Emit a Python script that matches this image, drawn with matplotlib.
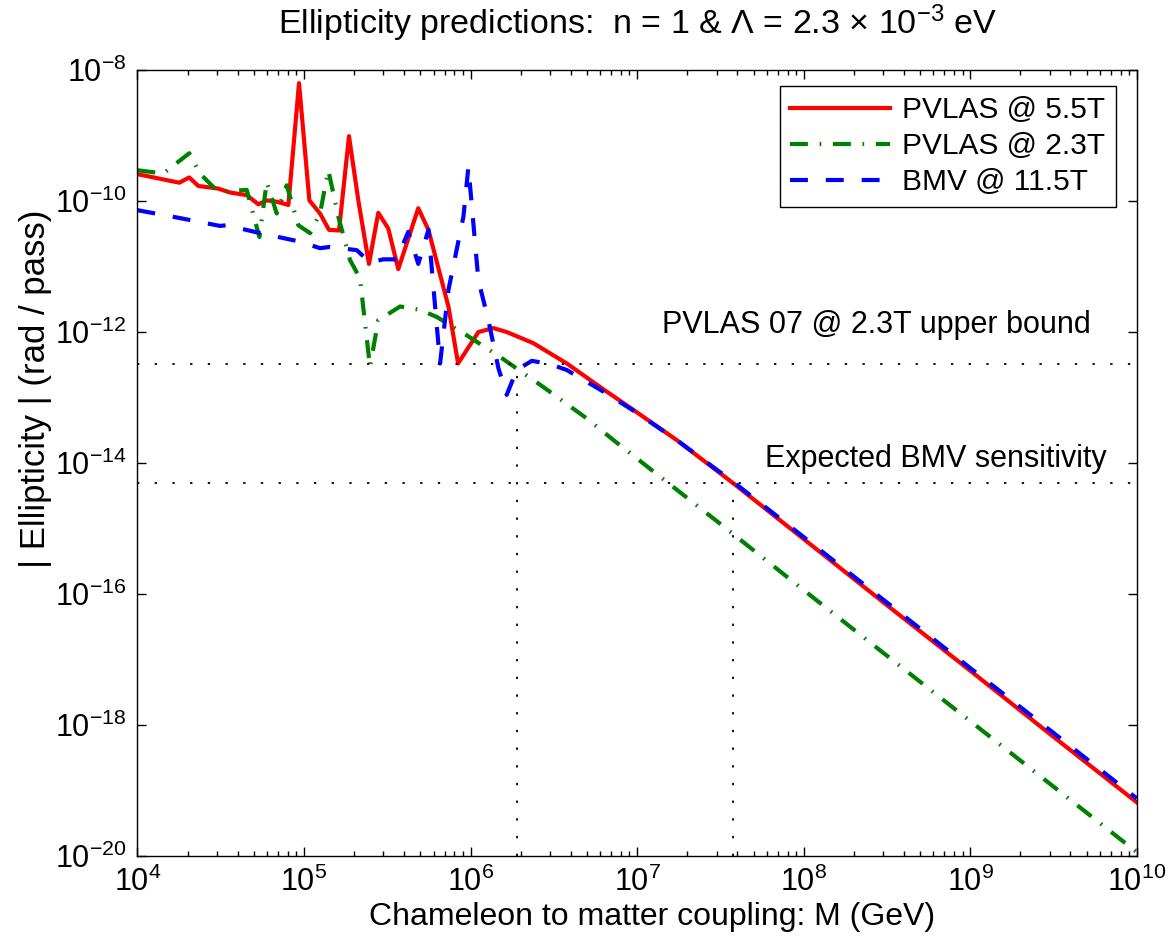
import numpy as np
import matplotlib
matplotlib.use('Agg')
import matplotlib.pyplot as plt
from matplotlib.ticker import NullLocator, FixedLocator

plt.rcParams['font.family'] = ['Liberation Sans', 'DejaVu Sans']
plt.rcParams['mathtext.default'] = 'regular'

# values, as log10(M / GeV) and log10(|ellipticity|)
red_logM = [4.0, 4.251, 4.311, 4.365, 4.485, 4.556, 4.656, 4.726, 4.776, 4.836,
            4.906, 4.970, 5.032, 5.096, 5.150, 5.210, 5.270, 5.326, 5.390, 5.446,
            5.506, 5.566, 5.686, 5.747, 5.867, 5.925, 6.047, 6.137, 6.217, 6.377,
            6.578, 6.778, 6.978, 7.238, 7.578, 8.0, 8.5, 9.0, 9.5, 10.0]
red_logE = [-9.59, -9.72, -9.64, -9.77, -9.81, -9.87, -9.91, -10.05, -9.99, -10.01,
            -10.06, -8.20, -9.99, -10.19, -10.44, -10.45, -9.01, -9.99, -10.96, -10.18,
            -10.42, -11.04, -10.11, -10.44, -11.61, -12.48, -12.00, -11.94, -12.00, -12.17,
            -12.48, -12.84, -13.19, -13.65, -14.31, -15.16, -16.17, -17.17, -18.18, -19.18]

green_logM = [4.0, 4.155, 4.311, 4.375, 4.485, 4.656, 4.732, 4.776, 4.836, 4.896,
              4.966, 5.036, 5.096, 5.146, 5.206, 5.276, 5.336, 5.396, 5.446, 5.577,
              5.697, 5.797, 5.977, 6.177, 6.437, 6.698, 6.858, 7.5, 8.0, 8.459,
              9.0, 9.5, 10.0]
green_logE = [-9.53, -9.58, -9.27, -9.58, -9.86, -9.83, -10.55, -9.71, -10.19, -9.76,
              -10.37, -10.49, -10.19, -9.53, -10.24, -10.90, -11.18, -12.53, -11.82, -11.61,
              -11.66, -11.77, -12.05, -12.38, -12.84, -13.32, -13.65, -14.93, -15.94, -16.86,
              -17.94, -18.94, -19.94]

blue_logM = [4.0, 4.255, 4.495, 4.536, 4.736, 4.976, 5.096, 5.156, 5.317, 5.396,
             5.476, 5.557, 5.626, 5.686, 5.747, 5.817, 5.867, 5.957, 5.987, 6.047,
             6.107, 6.167, 6.217, 6.277, 6.368, 6.477, 6.578, 6.778, 6.978, 7.238,
             7.578, 8.0, 8.5, 9.0, 9.5, 10.0]
blue_logE = [-10.14, -10.26, -10.38, -10.37, -10.49, -10.62, -10.72, -10.70, -10.75, -10.94,
             -10.89, -10.89, -10.47, -10.96, -10.44, -12.48, -11.36, -10.24, -9.48, -11.21,
             -11.82, -12.55, -12.96, -12.58, -12.44, -12.49, -12.58, -12.88, -13.20, -13.65,
             -14.29, -15.13, -16.13, -17.13, -18.12, -19.12]

labels = ['PVLAS @ 5.5T', 'PVLAS @ 2.3T', 'BMV @ 11.5T']

pvlas_bound = 3.2e-13
bmv_sens = 5.0e-15
M_bound = 1.89e6
M_sens = 3.78e7

fig = plt.figure(figsize=(11.69, 9.49), dpi=100)
ax = fig.add_axes([0.1176, 0.098, 0.8548, 0.8282])

ax.plot(10**np.array(red_logM), 10**np.array(red_logE), '-', color='#ff0000',
        lw=3, label=labels[0])
ax.plot(10**np.array(green_logM), 10**np.array(green_logE), color='#008000',
        lw=3, ls=(0, (4.3, 2.8, 0.4, 2.8)), label=labels[1])
ax.plot(10**np.array(blue_logM), 10**np.array(blue_logE), color='#0000ff',
        lw=3, ls=(0, (4.3, 4.3)), label=labels[2])

# reference lines
dot = (0, (1.3, 8.5))
ax.plot([1e4, 1e10], [pvlas_bound, pvlas_bound], color='k', lw=1.3, ls=dot)
ax.plot([1e4, 1e10], [bmv_sens, bmv_sens], color='k', lw=1.3, ls=dot)
ax.plot([M_bound, M_bound], [1e-20, pvlas_bound], color='k', lw=1.3, ls=dot)
ax.plot([M_sens, M_sens], [1e-20, bmv_sens], color='k', lw=1.3, ls=dot)

ax.text(1.41e7, 1.29e-12, 'PVLAS 07 @ 2.3T upper bound', fontsize=22, va='center')
ax.text(5.87e7, 1.17e-14, 'Expected BMV sensitivity', fontsize=22, va='center')

ax.set_xscale('log')
ax.set_yscale('log')
ax.set_xlim(1e4, 1e10)
ax.set_ylim(1e-20, 1e-8)

# only ticks inside the view
ax.yaxis.set_major_locator(FixedLocator([10.0**k for k in range(-20, -7, 2)]))
ax.yaxis.set_minor_locator(NullLocator())
ax.xaxis.set_major_locator(FixedLocator([10.0**k for k in range(4, 11)]))
ax.xaxis.set_minor_locator(FixedLocator([m * 10.0**k for k in range(4, 10)
                                         for m in range(2, 10)]))

ax.tick_params(which='both', direction='in', top=True, right=True, width=1)
ax.tick_params(which='major', length=6.5, labelsize=22, pad=8)
ax.tick_params(which='minor', length=3.6, labelbottom=False)
for s in ax.spines.values():
    s.set_linewidth(1)

ax.set_xlabel('Chameleon to matter coupling: M (GeV)', fontsize=23)
ax.xaxis.set_label_coords(0.515, -0.058)
ax.set_ylabel('| Ellipticity | (rad / pass)', fontsize=25)
ax.yaxis.set_label_coords(-0.086, 0.595)
ax.set_title('Ellipticity predictions:  n = 1 & Λ = 2.3 × 10$^{-3}$ eV',
             fontsize=24.5, pad=26)

leg = ax.legend(loc='upper right', bbox_to_anchor=(0.979, 0.98), borderaxespad=0,
                fontsize=21.5, handlelength=3.35, handletextpad=0.4,
                labelspacing=0.27, borderpad=0.35, fancybox=False,
                edgecolor='k', framealpha=1)
leg.get_frame().set_linewidth(1)

fig.savefig('out.png', dpi=100)
